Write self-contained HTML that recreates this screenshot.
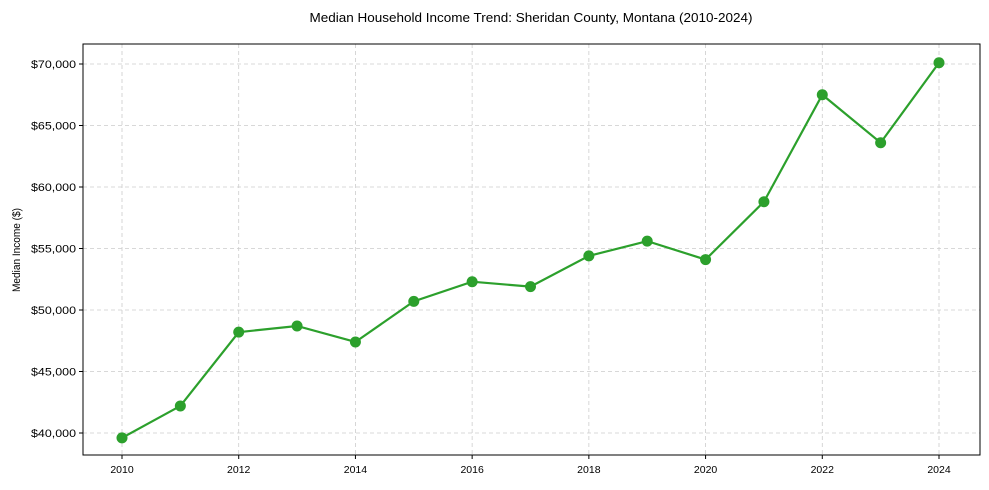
<!DOCTYPE html>
<html><head><meta charset="utf-8">
<style>
body{margin:0;background:#fff;}
svg{display:block;font-family:"Liberation Sans",sans-serif;}
</style></head>
<body>
<svg id="chart" width="989" height="490" viewBox="0 0 989 490">
<rect width="989" height="490" fill="#fff"/>
<text x="531" y="22" font-size="12.5" text-anchor="middle" fill="#000" textLength="443" lengthAdjust="spacingAndGlyphs">Median Household Income Trend: Sheridan County, Montana (2010-2024)</text>
<text transform="translate(20,250) rotate(-90)" font-size="11" text-anchor="middle" textLength="84" lengthAdjust="spacingAndGlyphs">Median Income ($)</text>
<g id="grid"></g><g id="ticks"></g><g id="series"></g>
<rect x="83" y="44" width="897" height="411" fill="none" stroke="#000" stroke-width="1"/>
</svg>
<script>
const years=[2010,2011,2012,2013,2014,2015,2016,2017,2018,2019,2020,2021,2022,2023,2024];
const incomes=[39600,42200,48200,48700,47400,50700,52300,51900,54400,55600,54100,58800,67500,63600,70100];
const yTicks=[40000,45000,50000,55000,60000,65000,70000];
const xTicks=[2010,2012,2014,2016,2018,2020,2022,2024];
const NS="http://www.w3.org/2000/svg";
const X=v=>122+(v-2010)*(939-122)/14;
const Y=v=>433-(v-40000)*(433-64)/30000;
function mk(t,a,p){const e=document.createElementNS(NS,t);for(const k in a)e.setAttribute(k,a[k]);p.appendChild(e);return e;}
const grid=document.getElementById('grid'),ticks=document.getElementById('ticks'),ser=document.getElementById('series');
yTicks.forEach(v=>{
 const l=mk('line',{x1:83,x2:980,y1:Y(v),y2:Y(v),stroke:'#ccc','stroke-dasharray':'4,3','stroke-width':0.8},grid);
 
 
 mk('line',{x1:79,x2:83,y1:Y(v),y2:Y(v),stroke:'#000'},ticks);
 const t=mk('text',{x:76,y:Y(v)+4,'font-size':11,'text-anchor':'end',textLength:45,lengthAdjust:'spacingAndGlyphs'},ticks);
 t.textContent='$'+v.toLocaleString('en-US');
 
 
});
xTicks.forEach(v=>{
 const l=mk('line',{x1:X(v),x2:X(v),y1:44,y2:455,stroke:'#ccc','stroke-dasharray':'4,3','stroke-width':0.8},grid);
 
 
 mk('line',{x1:X(v),x2:X(v),y1:455,y2:459,stroke:'#000'},ticks);
 const t=mk('text',{x:X(v),y:473,'font-size':10.5,'text-anchor':'middle'},ticks);
 t.textContent=v;
 
 
});
const pl=mk('polyline',{points:years.map((y,i)=>X(y)+','+Y(incomes[i])).join(' '),fill:'none',stroke:'#2ca02c','stroke-width':2.2},ser);


years.forEach((y,i)=>{
 const c=mk('circle',{cx:X(y),cy:Y(incomes[i]),r:5.5,fill:'#2ca02c'},ser);
 
 
});
</script>
</body></html>
